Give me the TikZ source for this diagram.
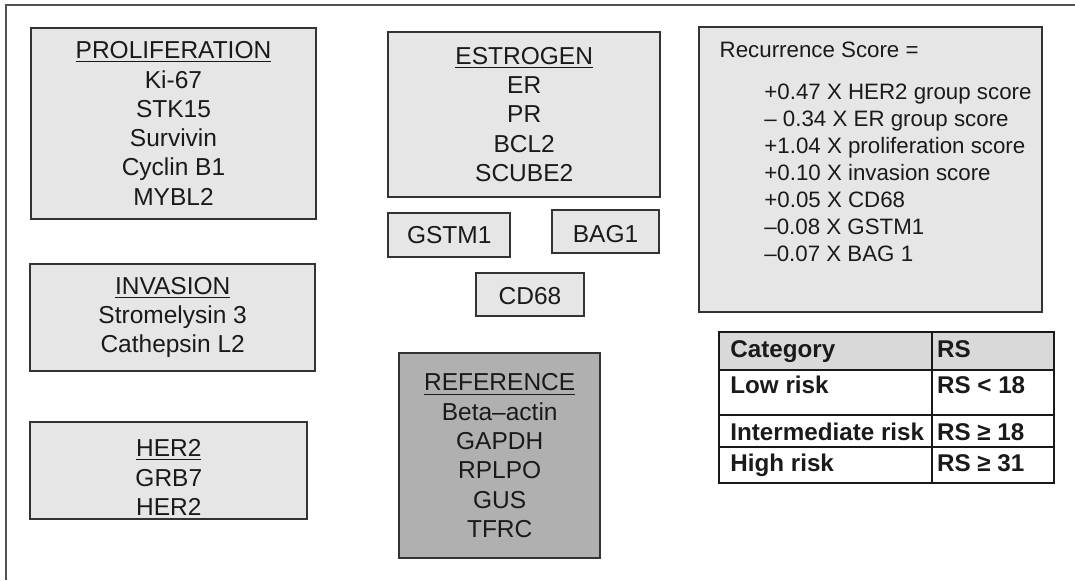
\documentclass[tikz,border=0pt]{standalone}
\usepackage{fontspec}
\setmainfont{Liberation Sans}

\definecolor{boxfill}{HTML}{E6E6E6}
\definecolor{reffill}{HTML}{B0B0B0}
\definecolor{headfill}{HTML}{D9D9D9}
\definecolor{edgegray}{HTML}{333333}
\definecolor{inkgray}{HTML}{1A1A1A}

\begin{document}
\begin{tikzpicture}[x=0.5pt,y=-0.5pt,
  framerule/.style={draw=edgegray!85,line width=1pt},
  genebox/.style={draw=edgegray,line width=1pt,fill=boxfill,align=center,
    inner sep=0pt,text=inkgray,font=\fontsize{12.25pt}{14.65pt}\selectfont},
  scoretext/.style={inner sep=0pt,text=inkgray,
    font=\fontsize{11.15pt}{13.47pt}\selectfont},
  tablerule/.style={draw=black!90,line width=1pt},
  celltext/.style={inner sep=0pt,anchor=base west,text=inkgray,
    font=\fontsize{12.1pt}{14.5pt}\selectfont\bfseries}]

\useasboundingbox (0,0) rectangle (1075,580);

% Outer frame: only the top and left rules show.
\draw[framerule] (1075,4.5) -- (5.5,4.5) -- (5.5,580);

% Left column of gene groups.
\node[genebox,minimum width=142.5pt,minimum height=95.7pt] (prolif)
  at (173.5,123.4)
  {\underline{PROLIFERATION}\\Ki-67\\STK15\\Survivin\\Cyclin B1\\MYBL2};

\node[genebox,minimum width=142.4pt,minimum height=53.4pt] (invasion)
  at (172.7,317.4)
  {\underline{INVASION}\\Stromelysin 3\\Cathepsin L2};

% Text sits low in this box, hence the strut.
\node[genebox,minimum width=138.5pt,minimum height=48.5pt] (her2)
  at (168.8,470.2)
  {\rule{0pt}{15.8pt}\underline{HER2}\\GRB7\\HER2};

% Middle column: estrogen group, single genes, reference genes.
\node[genebox,minimum width=135.9pt,minimum height=82.2pt] (estrogen)
  at (524.2,114.5)
  {\underline{ESTROGEN}\\ER\\PR\\BCL2\\SCUBE2};

\node[genebox,minimum width=60.9pt,minimum height=22pt] (gstm)
  at (449.2,235.3) {GSTM1};
\node[genebox,minimum width=53.8pt,minimum height=21.7pt] (bag)
  at (605.5,231.7) {\rule{0pt}{10.5pt}BAG1};
\node[genebox,minimum width=54pt,minimum height=21.7pt] (cd68)
  at (530,294.3) {\rule{0pt}{10.5pt}CD68};

\node[genebox,fill=reffill,minimum width=100.4pt,minimum height=102.5pt]
  (reference) at (499.7,455.8)
  {\underline{REFERENCE}\\Beta\textendash actin\\GAPDH\\RPLPO\\GUS\\TFRC};

% Recurrence score formula.
\node[genebox,minimum width=171.5pt,minimum height=142.2pt] (score)
  at (870.8,169.5) {};
\node[scoretext,anchor=base west] (rstitle) at (719.3,57.3)
  {Recurrence Score =};
\node[scoretext,align=left,anchor=north west] (rsterms) at (764,84)
  {+0.47 X HER2 group score\\
   \textendash{} 0.34 X ER group score\\
   +1.04 X proliferation score\\
   +0.10 X invasion score\\
   +0.05 X CD68\\
   \textendash0.08 X GSTM1\\
   \textendash0.07 X BAG 1};

% Risk category table.
\fill[headfill] (719.3,331.7) rectangle (1054,370);
\draw[tablerule] (719.3,331.7) rectangle (1054,483);
\draw[tablerule] (719.3,370) -- (1054,370)
  (719.3,415) -- (1054,415)
  (719.3,447) -- (1054,447)
  (931.7,331.7) -- (931.7,483);

\node[celltext] (cathead) at (730,357) {Category};
\node[celltext] (rshead) at (936.7,357) {RS};
\node[celltext] (catlow) at (730,393) {Low risk};
\node[celltext] (rslow) at (936.7,393) {RS < 18};
\node[celltext] (catmid) at (730,440) {Intermediate risk};
\node[celltext] (rsmid) at (936.7,440) {RS ≥ 18};
\node[celltext] (cathigh) at (730,471) {High risk};
\node[celltext] (rshigh) at (936.7,471) {RS ≥ 31};

\end{tikzpicture}
\end{document}
